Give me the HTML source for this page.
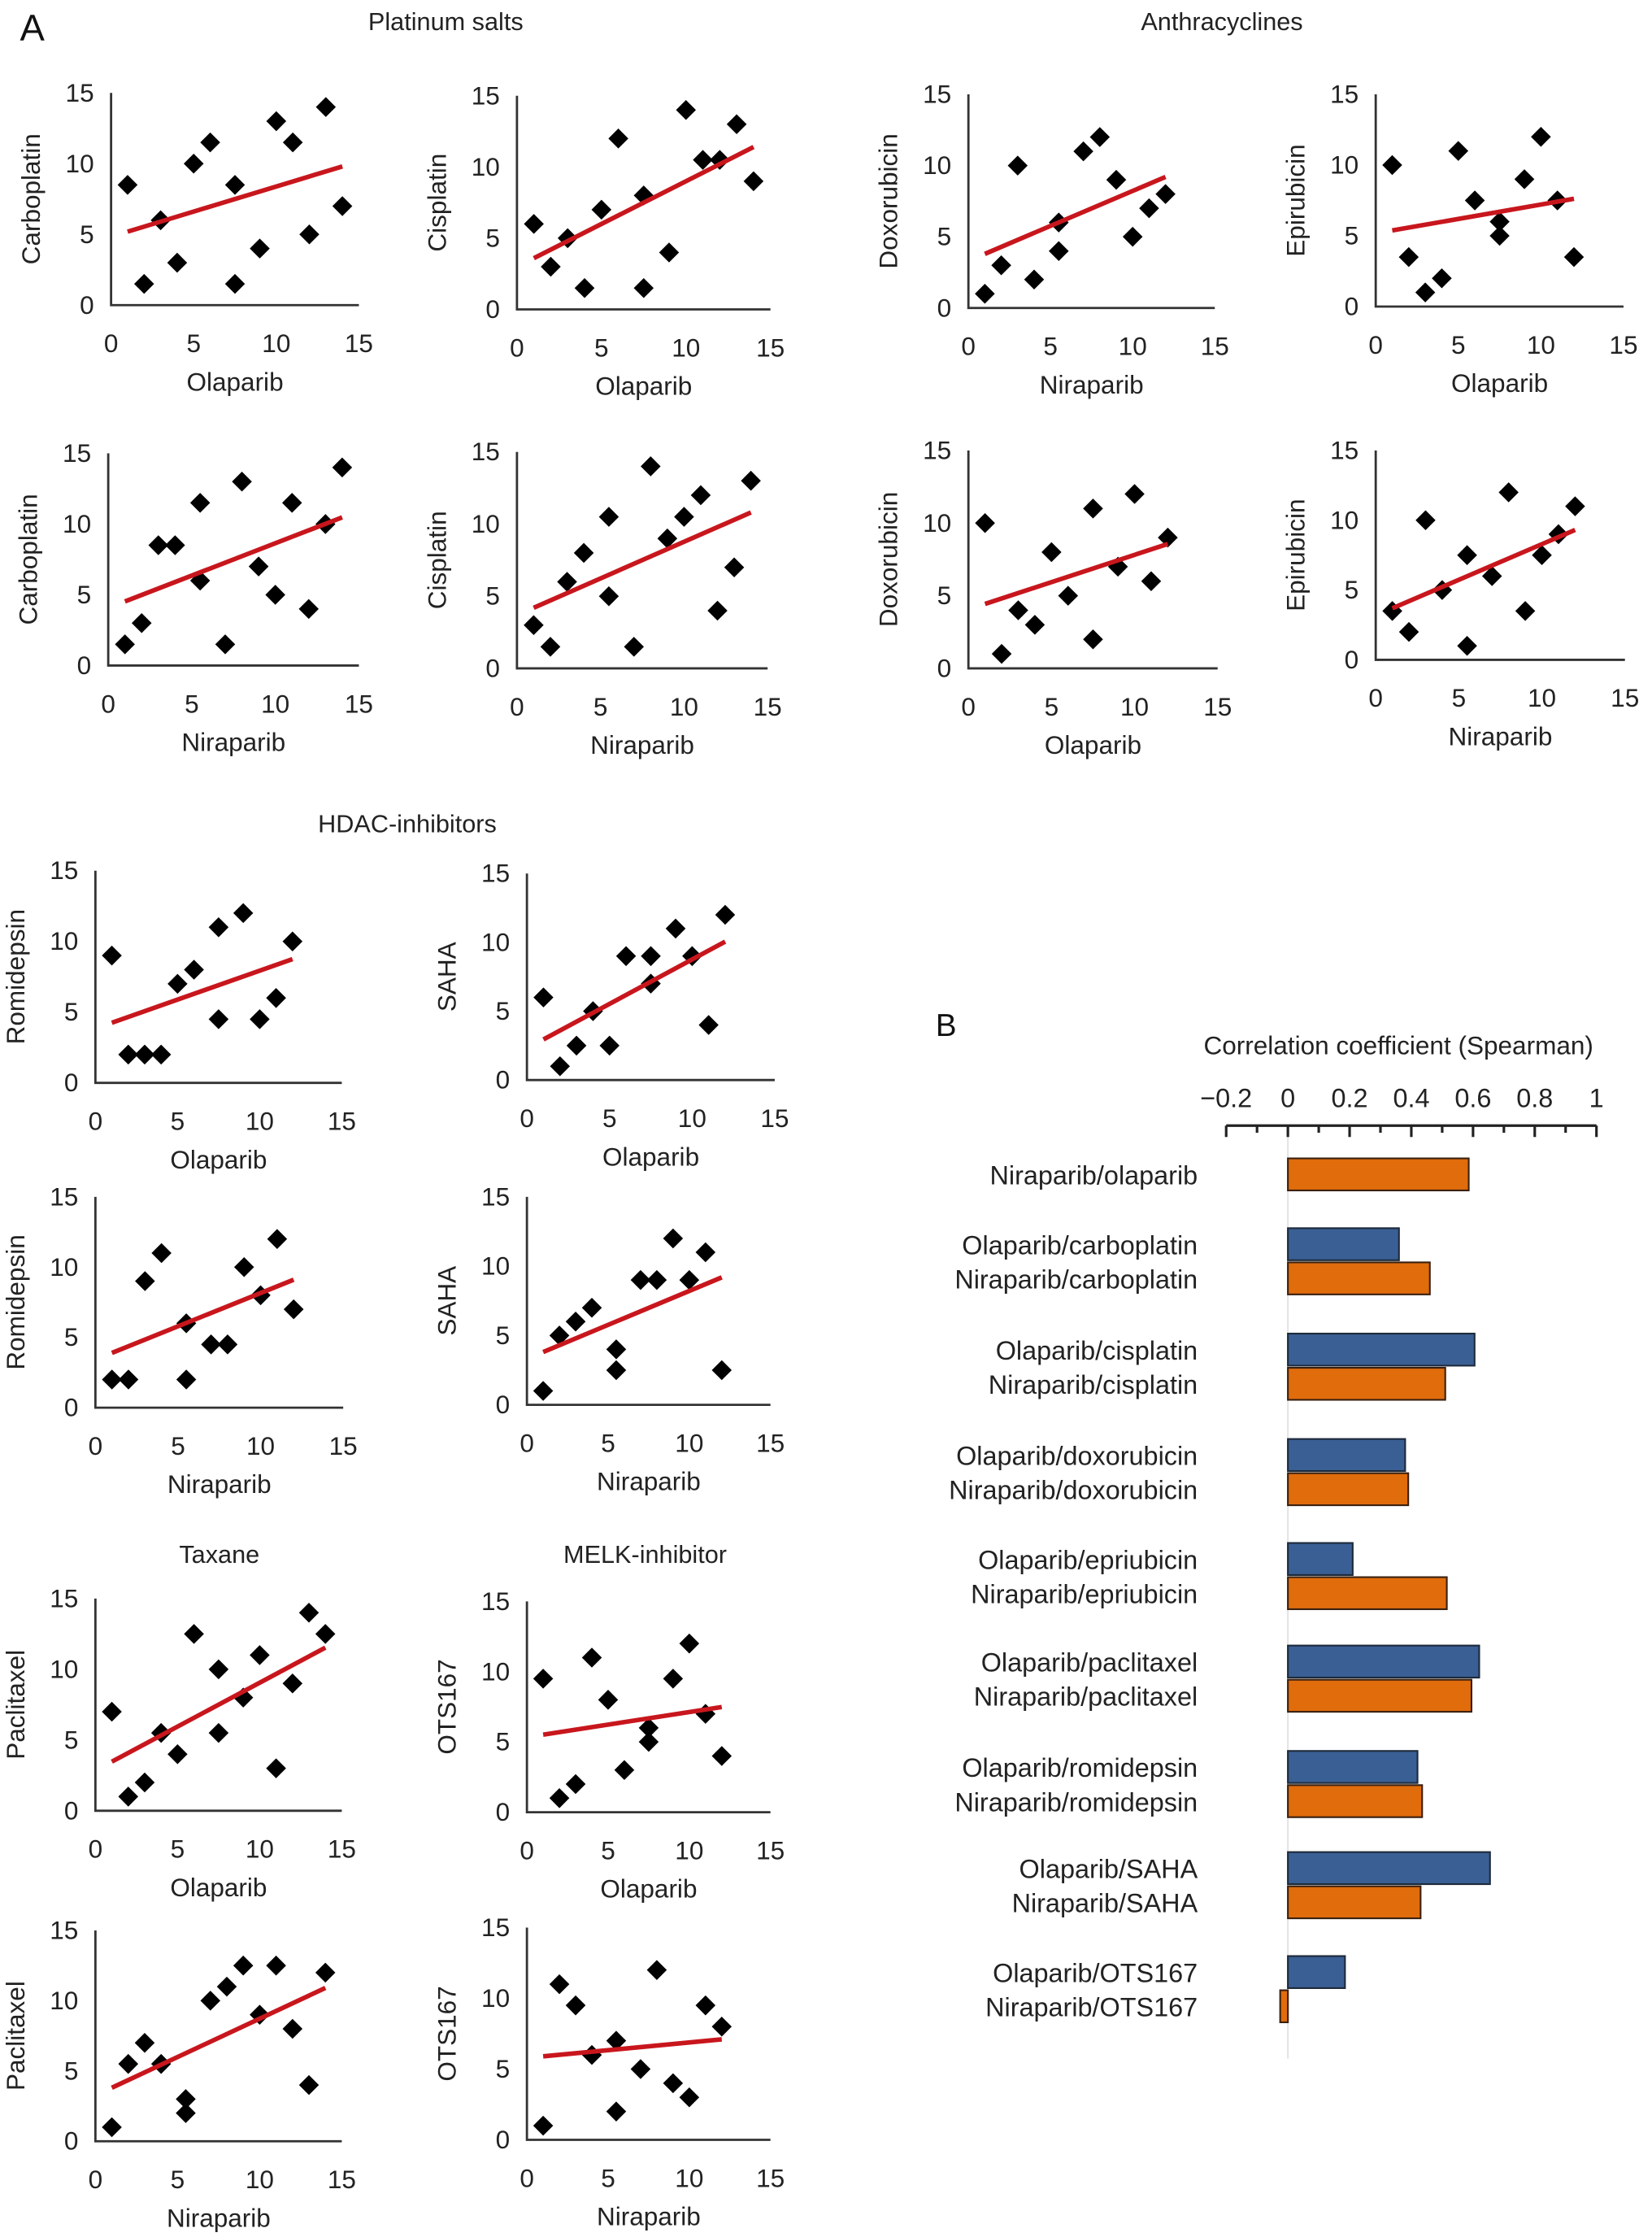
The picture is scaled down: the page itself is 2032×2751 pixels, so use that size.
<!DOCTYPE html>
<html><head><meta charset="utf-8"><style>
html,body{margin:0;padding:0;background:#fff}
svg{display:block;font-family:"Liberation Sans",Arial,sans-serif}
</style></head><body>
<svg id="fig" width="2032" height="2751" viewBox="0 0 1160 1570" xmlns="http://www.w3.org/2000/svg">
<rect width="1160" height="1570" fill="#fff"/>
<text x="14" y="28" font-size="26" fill="#111">A</text>
<text x="313" y="21" font-size="17.5" text-anchor="middle" fill="#222">Platinum salts</text>
<text x="858" y="21" font-size="17.5" text-anchor="middle" fill="#222">Anthracyclines</text>
<text x="286" y="584" font-size="17.5" text-anchor="middle" fill="#222">HDAC-inhibitors</text>
<text x="154" y="1097" font-size="17.5" text-anchor="middle" fill="#222">Taxane</text>
<text x="453" y="1097" font-size="17.5" text-anchor="middle" fill="#222">MELK-inhibitor</text>
<text x="657" y="727" font-size="22" fill="#111">B</text>
<g id="scatters"></g>
<g id="bars"></g>
</svg>
<script>
// ---- Scatter data ----
const p1x=[1,2,3,4,5,6,7.5,7.5,9,10,11,12,13,14];
const p1y=[8.5,1.5,6,3,10,11.5,8.5,1.5,4,13,11.5,5,14,7];
const p2x=[1,2,3,4,5,6,7.5,7.5,9,10,11,12,13,14];
const p2y=[6,3,5,1.5,7,12,8,1.5,4,14,10.5,10.5,13,9];
const p3x=[1,2,3,4,5.5,5.5,7,8,9,10,11,12];
const p3y=[1,3,10,2,4,6,11,12,9,5,7,8];
const p4x=[1,2,3,4,5,6,7.5,7.5,9,10,11,12];
const p4y=[10,3.5,1,2,11,7.5,6,5,9,12,7.5,3.5];
const p5x=[1,2,3,4,5.5,5.5,7,8,9,10,11,12,13,14];
const p5y=[1.5,3,8.5,8.5,6,11.5,1.5,13,7,5,11.5,4,10,14];
const p6x=[1,2,3,4,5.5,5.5,7,8,9,10,11,12,13,14];
const p6y=[3,1.5,6,8,5,10.5,1.5,14,9,10.5,12,4,7,13];
const p7x=[1,2,3,4,5,6,7.5,7.5,9,10,11,12];
const p7y=[10,1,4,3,8,5,11,2,7,12,6,9];
const p8x=[1,2,3,4,5.5,5.5,7,8,9,10,11,12];
const p8y=[3.5,2,10,5,1,7.5,6,12,3.5,7.5,9,11];
const p9x=[1,2,3,4,5,6,7.5,7.5,9,10,11,12];
const p9y=[9,2,2,2,7,8,11,4.5,12,4.5,6,10];
const p10x=[1,2,3,4,5,6,7.5,7.5,9,10,11,12];
const p10y=[6,1,2.5,5,2.5,9,9,7,11,9,4,12];
const p11x=[1,2,3,4,5.5,5.5,7,8,9,10,11,12];
const p11y=[2,2,9,11,6,2,4.5,4.5,10,8,12,7];
const p12x=[1,2,3,4,5.5,5.5,7,8,9,10,11,12];
const p12y=[1,5,6,7,4,2.5,9,9,12,9,11,2.5];
const p13x=[1,2,3,4,5,6,7.5,7.5,9,10,11,12,13,14];
const p13y=[7,1,2,5.5,4,12.5,10,5.5,8,11,3,9,14,12.5];
const p14x=[1,2,3,4,5,6,7.5,7.5,9,10,11,12];
const p14y=[9.5,1,2,11,8,3,6,5,9.5,12,7,4];
const p15x=[1,2,3,4,5.5,5.5,7,8,9,10,11,12,13,14];
const p15y=[1,5.5,7,5.5,3,2,10,11,12.5,9,12.5,8,4,12];
const p16x=[1,2,3,4,5.5,5.5,7,8,9,10,11,12];
const p16y=[1,11,9.5,6,7,2,5,12,4,3,9.5,8];
const xTicks=[0,5,10,15];
const yTicks=[0,5,10,15];

const panels=[
 {n:'carboplatin-vs-olaparib',xs:p1x,ys:p1y,xl:'Olaparib',yl:'Carboplatin',x0:78,x1:252,y0:214,y1:65},
 {n:'cisplatin-vs-olaparib',xs:p2x,ys:p2y,xl:'Olaparib',yl:'Cisplatin',x0:363,x1:541,y0:217,y1:67},
 {n:'doxorubicin-vs-niraparib',xs:p3x,ys:p3y,xl:'Niraparib',yl:'Doxorubicin',x0:680,x1:853,y0:216,y1:66},
 {n:'epirubicin-vs-olaparib',xs:p4x,ys:p4y,xl:'Olaparib',yl:'Epirubicin',x0:966,x1:1140,y0:215,y1:66},
 {n:'carboplatin-vs-niraparib',xs:p5x,ys:p5y,xl:'Niraparib',yl:'Carboplatin',x0:76,x1:252,y0:467,y1:318},
 {n:'cisplatin-vs-niraparib',xs:p6x,ys:p6y,xl:'Niraparib',yl:'Cisplatin',x0:363,x1:539,y0:469,y1:317},
 {n:'doxorubicin-vs-olaparib',xs:p7x,ys:p7y,xl:'Olaparib',yl:'Doxorubicin',x0:680,x1:855,y0:469,y1:316},
 {n:'epirubicin-vs-niraparib',xs:p8x,ys:p8y,xl:'Niraparib',yl:'Epirubicin',x0:966,x1:1141,y0:463,y1:316},
 {n:'romidepsin-vs-olaparib',xs:p9x,ys:p9y,xl:'Olaparib',yl:'Romidepsin',x0:67,x1:240,y0:760,y1:611},
 {n:'saha-vs-olaparib',xs:p10x,ys:p10y,xl:'Olaparib',yl:'SAHA',x0:370,x1:544,y0:758,y1:613},
 {n:'romidepsin-vs-niraparib',xs:p11x,ys:p11y,xl:'Niraparib',yl:'Romidepsin',x0:67,x1:241,y0:988,y1:840},
 {n:'saha-vs-niraparib',xs:p12x,ys:p12y,xl:'Niraparib',yl:'SAHA',x0:370,x1:541,y0:986,y1:840},
 {n:'paclitaxel-vs-olaparib',xs:p13x,ys:p13y,xl:'Olaparib',yl:'Paclitaxel',x0:67,x1:240,y0:1271,y1:1122},
 {n:'ots167-vs-olaparib',xs:p14x,ys:p14y,xl:'Olaparib',yl:'OTS167',x0:370,x1:541,y0:1272,y1:1124},
 {n:'paclitaxel-vs-niraparib',xs:p15x,ys:p15y,xl:'Niraparib',yl:'Paclitaxel',x0:67,x1:240,y0:1503,y1:1355},
 {n:'ots167-vs-niraparib',xs:p16x,ys:p16y,xl:'Niraparib',yl:'OTS167',x0:370,x1:541,y0:1502,y1:1353}
];

// ---- Bar chart data ----
const barLabelsOla=['','Olaparib/carboplatin','Olaparib/cisplatin','Olaparib/doxorubicin','Olaparib/epriubicin','Olaparib/paclitaxel','Olaparib/romidepsin','Olaparib/SAHA','Olaparib/OTS167'];
const barLabelsNira=['Niraparib/olaparib','Niraparib/carboplatin','Niraparib/cisplatin','Niraparib/doxorubicin','Niraparib/epriubicin','Niraparib/paclitaxel','Niraparib/romidepsin','Niraparib/SAHA','Niraparib/OTS167'];
const olaValues=[null,0.36,0.605,0.38,0.21,0.62,0.42,0.655,0.185];
const niraValues=[0.586,0.46,0.51,0.39,0.515,0.595,0.435,0.43,-0.025];
const bTicks=[-0.2,0,0.2,0.4,0.6,0.8,1];
const bTickLabels=['\u22120.2','0','0.2','0.4','0.6','0.8','1'];

const NS='http://www.w3.org/2000/svg';
function mk(tag,attrs,parent){const e=document.createElementNS(NS,tag);for(const k in attrs)e.setAttribute(k,attrs[k]);parent.appendChild(e);return e;}

const sg=document.getElementById('scatters');
panels.forEach(p=>{
  const g=mk('g',{},sg);
  
  
  const sx=v=>p.x0+(p.x1-p.x0)*v/15;
  const sy=v=>p.y0+(p.y1-p.y0)*v/15;
  const ax=mk('path',{d:`M${p.x0},${p.y1} L${p.x0},${p.y0} L${p.x1},${p.y0}`,fill:'none',stroke:'#333','stroke-width':1.6},g);
  
  
  yTicks.forEach(t=>{const e=mk('text',{x:p.x0-12,y:sy(t)+6,'font-size':18,'text-anchor':'end',fill:'#222'},g);e.textContent=t;
    
    });
  xTicks.forEach(t=>{const e=mk('text',{x:sx(t),y:p.y0+33,'font-size':18,'text-anchor':'middle',fill:'#222'},g);e.textContent=t;
    
    });
  const xl=mk('text',{x:(p.x0+p.x1)/2,y:p.y0+60,'font-size':18,'text-anchor':'middle',fill:'#222'},g);xl.textContent=p.xl;
  
  
  const yc=(p.y0+p.y1)/2, yx=p.x0-50;
  const yl=mk('text',{x:yx,y:yc,'font-size':18,'text-anchor':'middle',fill:'#222',transform:`rotate(-90 ${yx} ${yc})`},g);yl.textContent=p.yl;
  
  
  const n=p.xs.length;let mx=0,my=0;for(let i=0;i<n;i++){mx+=p.xs[i];my+=p.ys[i];}mx/=n;my/=n;
  let sxy=0,sxx=0;for(let i=0;i<n;i++){sxy+=(p.xs[i]-mx)*(p.ys[i]-my);sxx+=(p.xs[i]-mx)**2;}
  const b=sxy/sxx,a=my-b*mx;const xa=Math.min(...p.xs),xb=Math.max(...p.xs);
  p.xs.forEach((xv,i)=>{const cx=sx(xv),cy=sy(p.ys[i]),r=7;
    const d=mk('path',{d:`M${cx},${cy-r} L${cx+r},${cy} L${cx},${cy+r} L${cx-r},${cy} Z`,fill:'#000'},g);
    
    });
  const ln=mk('line',{x1:sx(xa),y1:sy(a+b*xa),x2:sx(xb),y2:sy(a+b*xb),stroke:'#c8161d','stroke-width':3.2},g);
  
  
});

const bg=document.getElementById('bars');
const bx0=861,bx1=1121,bAxisY=790;
const bs=v=>bx0+(bx1-bx0)*(v+0.2)/1.2;
const ttl=mk('text',{x:982,y:740,'font-size':18,'text-anchor':'middle',fill:'#222'},bg);ttl.textContent='Correlation coefficient (Spearman)';


const zl=mk('line',{x1:bs(0),y1:bAxisY,x2:bs(0),y2:1445,stroke:'#e4e4e4','stroke-width':1.2},bg);


const bax=mk('line',{x1:bx0,y1:bAxisY,x2:bx1,y2:bAxisY,stroke:'#222','stroke-width':1.8},bg);


for(let k=0;k<=12;k++){const v=-0.2+k*0.1;const major=k%2===0;
  const t=mk('line',{x1:bs(v),y1:bAxisY,x2:bs(v),y2:bAxisY+(major?8:5),stroke:'#222','stroke-width':1.8},bg);
  
  }
bTicks.forEach((v,i)=>{const e=mk('text',{x:bs(v),y:777,'font-size':18.5,'text-anchor':'middle',fill:'#222'},bg);e.textContent=bTickLabels[i];
  
  });
const rowTop=[0,862,936,1010,1083,1155,1229,1300,1373];
const bh=22.5;
for(let i=0;i<niraValues.length;i++){
  let by=i===0?813:rowTop[i];
  if(olaValues[i]!==null){
    const v=olaValues[i];
    const r=mk('rect',{x:Math.min(bs(0),bs(v)),y:by,width:Math.abs(bs(v)-bs(0)),height:bh,fill:'#3a5f94',stroke:'#1d2a3a','stroke-width':1.2},bg);
    
    
    const t=mk('text',{x:841,y:by+bh/2+7,'font-size':18.5,'text-anchor':'end',fill:'#222'},bg);t.textContent=barLabelsOla[i];
    
    
    by+=bh+1.5;
  }
  const v=niraValues[i];
  const r=mk('rect',{x:Math.min(bs(0),bs(v)),y:by,width:Math.max(2,Math.abs(bs(v)-bs(0))),height:bh,fill:'#e06c0c',stroke:'#3a2010','stroke-width':1.2},bg);
  
  
  const t=mk('text',{x:841,y:by+bh/2+7,'font-size':18.5,'text-anchor':'end',fill:'#222'},bg);t.textContent=barLabelsNira[i];
  
  
}
</script>
</body></html>
